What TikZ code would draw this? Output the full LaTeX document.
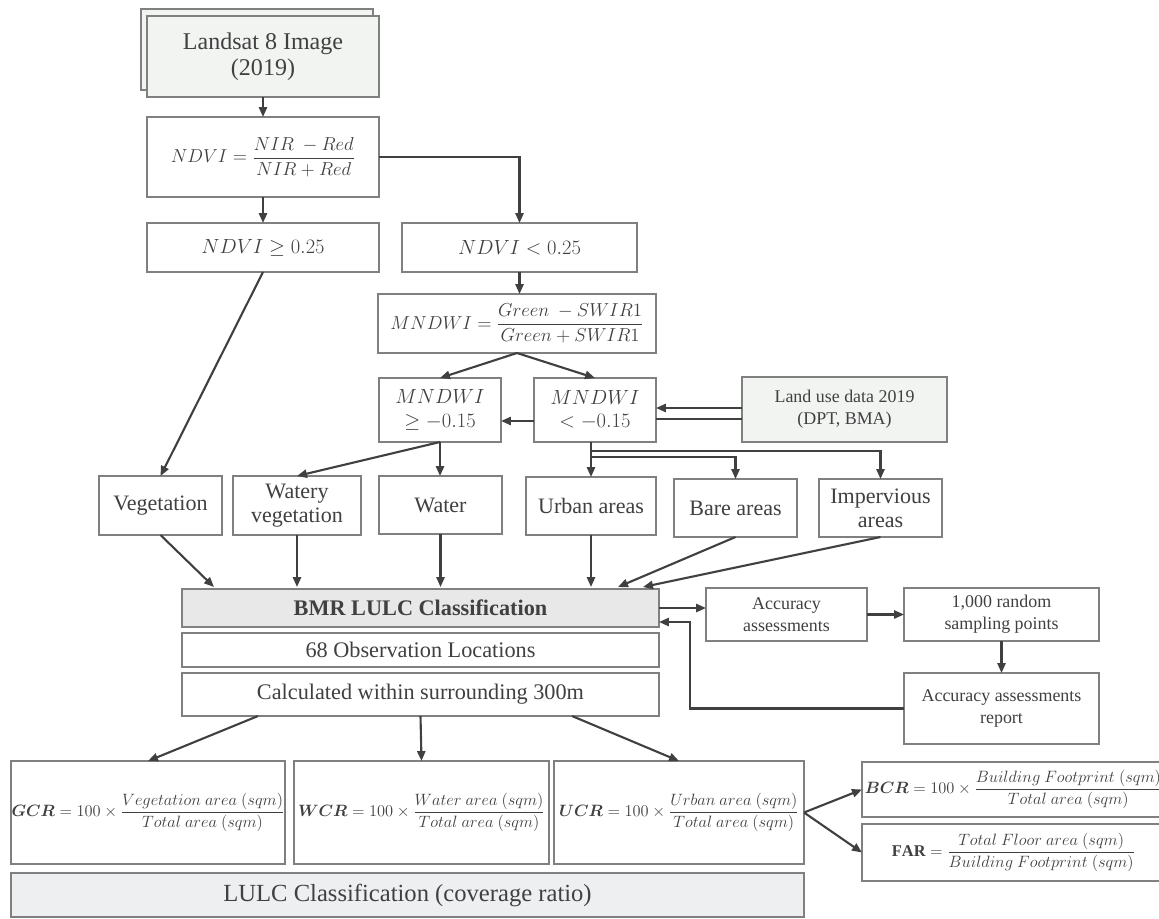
\documentclass[tikz,border=0pt]{standalone}
\usepackage{fix-cm}
\usepackage{amsmath}
\usepackage{fontspec}
\setmainfont{Liberation Serif}
\usetikzlibrary{arrows.meta}
\definecolor{ink}{HTML}{404040}
\definecolor{edge}{HTML}{808080}
\definecolor{landfill}{HTML}{F2F4F2}
\definecolor{bmrfill}{HTML}{E8E8E8}
\definecolor{lulcfill}{HTML}{EEEFF0}

\begin{document}
\begin{tikzpicture}[x=0.03cm,y=-0.03cm,
  >={Triangle[length=8.5pt,width=7pt]},
  wh/.style 2 args={minimum width=#1*0.03cm,minimum height=#2*0.03cm},
  box/.style={rectangle,draw=edge,line width=1.1pt,fill=white,align=center,
    inner sep=0,outer sep=0,text=ink},
  titlebox/.style={box,font=\fontsize{20.5}{22}\selectfont},
  eqbox/.style={box,font=\fontsize{17.5}{20}\selectfont},
  fracbox/.style={box,font=\fontsize{16}{19}\selectfont},
  classbox/.style={box,font=\fontsize{18.8}{20.5}\selectfont},
  stepbox/.style={box,font=\fontsize{19}{21}\selectfont},
  smallbox/.style={box,font=\fontsize{15.3}{18.5}\selectfont},
  ratiobox/.style={box,font=\fontsize{14}{16}\selectfont},
  link/.style={draw=ink,line width=1.8pt}]
  \useasboundingbox (0,0) rectangle (1159,918);
  \clip (0,0) rectangle (1159,918);
  % input image and indices
  \node[box,fill=landfill,wh={232}{81}] (landback) at (257,49.5) {};
  \node[titlebox,fill=landfill,wh={232}{81}] (landsat) at (263,56.5) {Landsat 8 Image\\(2019)};
  \node[fracbox,wh={232}{80}] (ndvi) at (263,157) {$NDVI=\dfrac{NIR\ -Red}{NIR+Red}$};
  \node[eqbox,wh={232}{49}] (ndvihi) at (263,247.5) {$NDVI\geq 0.25$};
  \node[eqbox,wh={235}{49}] (ndvilo) at (519.5,247.5) {$NDVI<0.25$};
  \node[fracbox,wh={278}{59}] (mndwi) at (517,323.5) {$MNDWI=\dfrac{Green\ -SWIR1}{Green+SWIR1}$};
  \node[eqbox,wh={122}{64}] (mndwihi) at (440,410) {$MNDWI$\\$\geq -0.15$};
  \node[eqbox,wh={122}{64}] (mndwilo) at (595,410) {$MNDWI$\\$< -0.15$};
  \node[smallbox,fill=landfill,wh={205}{65}] (landuse) at (844.5,409.5) {Land use data 2019\\(DPT, BMA)};
  % land cover classes
  \node[classbox,wh={123}{59}] (veg) at (160.5,505.5) {Vegetation};
  \node[classbox,wh={128}{59}] (wveg) at (297,505.5) {Watery\\vegetation};
  \node[classbox,wh={123}{58}] (water) at (440.5,505) {Water};
  \node[classbox,wh={130}{58}] (urban) at (591,506) {Urban areas};
  \node[classbox,wh={123}{58}] (bare) at (735.5,508) {Bare areas};
  \node[classbox,wh={123}{58}] (imperv) at (880.5,508) {Impervious\\areas};
  % classification
  \node[stepbox,fill=bmrfill,wh={477}{38}] (bmr) at (420.5,608) {\textbf{BMR LULC Classification}};
  \node[stepbox,wh={477}{34}] (obs) at (420.5,650) {68 Observation Locations};
  \node[stepbox,wh={477}{43}] (calc) at (420.5,694.5) {Calculated within surrounding 300m};
  \node[smallbox,wh={161}{53}] (acc) at (786.5,614.5) {Accuracy\\assessments};
  \node[smallbox,wh={195}{53}] (samp) at (1001.5,614.5) {1,000 random\\sampling points};
  \node[smallbox,wh={195}{71}] (report) at (1001.5,708.5) {Accuracy assessments\\report};
  % coverage ratios
  \node[ratiobox,wh={274}{103}] (gcr) at (148,812.5)
    {$\boldsymbol{GCR}=100\times\dfrac{Vegetation\ area\ (sqm)}{Total\ area\ (sqm)}$};
  \node[ratiobox,wh={255}{103}] (wcr) at (421.5,812.5)
    {$\boldsymbol{WCR}=100\times\dfrac{Water\ area\ (sqm)}{Total\ area\ (sqm)}$};
  \node[ratiobox,wh={250}{103}] (ucr) at (679,812.5)
    {$\boldsymbol{UCR}=100\times\dfrac{Urban\ area\ (sqm)}{Total\ area\ (sqm)}$};
  \node[ratiobox,wh={303}{55}] (bcr) at (1013.5,789.5)
    {$\boldsymbol{BCR}=100\times\dfrac{Building\ Footprint\ (sqm)}{Total\ area\ (sqm)}$};
  \node[ratiobox,wh={303}{57}] (far) at (1013.5,852.5)
    {$\mathbf{FAR}=\dfrac{Total\ Floor\ area\ (sqm)}{Building\ Footprint\ (sqm)}$};
  \node[box,fill=lulcfill,font=\fontsize{21}{23}\selectfont,wh={793}{44}] (lulc) at (407.5,895)
    {LULC Classification (coverage ratio)};
  % junctions
  \coordinate (j1) at (591,451);
  \coordinate (j2) at (591,457);
  \coordinate (lu1) at (742,408);
  \coordinate (lu2) at (742,419);
  \coordinate (mw) at (534,421);
  \coordinate (in1) at (214,587);
  \coordinate (in2) at (618,587);
  \coordinate (in3) at (643,587);
  \coordinate (fb) at (690,622);
  \coordinate (c1) at (258,716);
  \coordinate (c2) at (572,716);
  % connectors
  \draw[link,->] (landsat) -- (ndvi);
  \draw[link,->] (ndvi) -- (ndvihi);
  \draw[link,->] (ndvi.east) -| (ndvilo);
  \draw[link,->] (ndvilo.south) -- (ndvilo.south |- mndwi.north);
  \draw[link,->] (mndwi.south) -- (mndwihi.north);
  \draw[link,->] (mndwi.south) -- (mndwilo.north);
  \draw[link,->] (mw) -- (mw -| mndwihi.east);
  \draw[link,->] (lu1) -- (lu1 -| mndwilo.east);
  \draw[link] (lu2) -- (lu2 -| mndwilo.east);
  \draw[link,->] (urban.north |- mndwilo.south) -- (urban.north);
  \draw[link,->] (j1) -| (imperv);
  \draw[link,->] (j2) -| (bare);
  \draw[link,->] (ndvihi.south) -- (veg.north);
  \draw[link,->] (mndwihi.south) -- (wveg.north);
  \draw[link,->] (mndwihi.south) -- (mndwihi.south |- water.north);
  \draw[link,->] (veg.south) -- (in1);
  \draw[link,->] (wveg.south) -- (in1 -| wveg.south);
  \draw[link,->] (water.south) -- (in1 -| water.south);
  \draw[link,->] (urban.south) -- (in1 -| urban.south);
  \draw[link,->] (bare.south) -- (in2);
  \draw[link,->] (imperv.south) -- (in3);
  \draw[link,->] (bmr.east) -- (bmr.east -| acc.west);
  \draw[link,->] (acc) -- (samp);
  \draw[link,->] (samp) -- (report);
  \draw[link,->] (report.west) -| (fb) -- (fb -| bmr.east);
  \draw[link,->] (c1) -- (gcr.north);
  \draw[link,->] (calc.south) -- (wcr.north);
  \draw[link,->] (c2) -- (ucr.north);
  \draw[link,->] (ucr.east) -- (bcr.west);
  \draw[link,->] (ucr.east) -- (far.west);
\end{tikzpicture}
\end{document}
